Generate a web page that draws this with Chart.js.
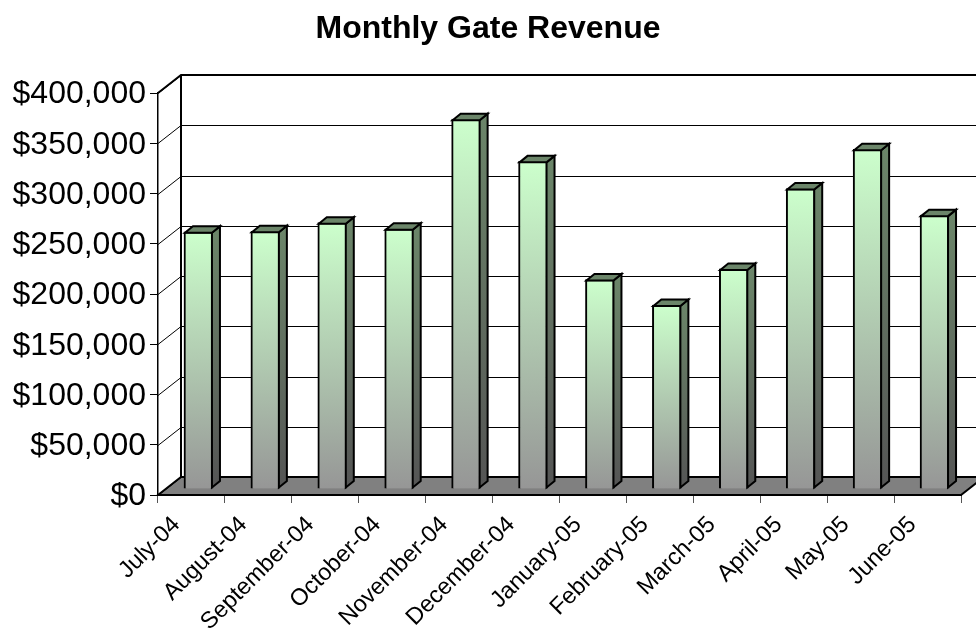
<!DOCTYPE html>
<html>
<head>
<meta charset="utf-8">
<title>Monthly Gate Revenue</title>
<script src="https://cdn.jsdelivr.net/npm/chart.js@4"></script>
<style>
  html, body { margin: 0; padding: 0; background: #fff; }
  #wrap { width: 976px; height: 630px; }
</style>
</head>
<body>
<div id="wrap"><canvas id="gateChart" width="976" height="630"></canvas></div>
<script>
const months = ["July-04", "August-04", "September-04", "October-04", "November-04", "December-04",
                "January-05", "February-05", "March-05", "April-05", "May-05", "June-05"];
const gateRevenue = [256000, 256500, 265000, 259000, 368000, 326000,
                     208500, 183000, 219000, 299000, 338000, 272500];
const yMax = 400000;
const yStep = 50000;

// fake 3D depth of the chart box and of the bars
const wallDx = 23, wallDy = -18;
const barShiftX = 7, barShiftY = -6;
const barDx = 8, barDy = -6.5;

const fontName = '"Liberation Sans", Arial, sans-serif';

function poly(ctx, pts, fill, stroke, lw) {
    ctx.beginPath();
    pts.forEach((p, i) => i ? ctx.lineTo(p[0], p[1]) : ctx.moveTo(p[0], p[1]));
    ctx.closePath();
    if (fill) { ctx.fillStyle = fill; ctx.fill(); }
    if (stroke) { ctx.strokeStyle = stroke; ctx.lineWidth = lw; ctx.stroke(); }
}

const box3d = {
    id: "box3d",
    beforeDatasetsDraw(chart) {
        const { ctx, chartArea: a, scales: { y } } = chart;
        ctx.save();
        // floor
        poly(ctx, [[a.left, a.bottom], [a.left + wallDx, a.bottom + wallDy],
                   [a.right + wallDx, a.bottom + wallDy], [a.right, a.bottom]], "#808080", "#000", 2);
        // back wall lines and the slanted lines on the side wall
        ctx.strokeStyle = "#000";
        y.ticks.forEach(t => {
            const py = Math.round(y.getPixelForValue(t.value)) + 0.5;
            ctx.lineWidth = 1;
            ctx.beginPath();
            ctx.moveTo(a.left, py);
            ctx.lineTo(a.left + wallDx, py + wallDy);
            if (t.value > 0) ctx.lineTo(a.right + wallDx, py + wallDy);
            ctx.stroke();
        });
        ctx.lineWidth = 2;
        ctx.beginPath();
        ctx.moveTo(a.left, a.top);
        ctx.lineTo(a.left + wallDx, a.top + wallDy);
        ctx.lineTo(a.right + wallDx, a.top + wallDy);
        ctx.moveTo(a.left + wallDx, a.top + wallDy);
        ctx.lineTo(a.left + wallDx, a.bottom + wallDy);
        ctx.stroke();
        ctx.restore();
    },
    beforeDatasetDraw(chart) {
        chart.ctx.save();
        chart.ctx.translate(barShiftX, barShiftY);
    },
    afterDatasetDraw(chart, args) {
        const ctx = chart.ctx;
        // top and side faces, same shift as the front face
        chart.getDatasetMeta(args.index).data.forEach(bar => {
            const r = bar.x + bar.width / 2 - 1, l = bar.x - bar.width / 2 + 1;
            const t = bar.y + 1, b = bar.base - 1;
            const side = ctx.createLinearGradient(0, t, 0, b);
            side.addColorStop(0, "#6b8569");
            side.addColorStop(1, "#555555");
            poly(ctx, [[r, t], [r + barDx, t + barDy], [r + barDx, b + barDy], [r, b]], side, "#000", 2);
            poly(ctx, [[l, t], [l + barDx, t + barDy], [r + barDx, t + barDy], [r, t]], "#6b8569", "#000", 2);
        });
        ctx.restore();
    }
};

new Chart(document.getElementById("gateChart"), {
    type: "bar",
    data: {
        labels: months,
        datasets: [{
            label: "Gate Revenue",
            data: gateRevenue,
            barThickness: 29,
            borderColor: "#000",
            borderWidth: 2,
            clip: false,
            backgroundColor(c) {
                const y = c.chart.scales.y;
                const top = y ? y.getPixelForValue(gateRevenue[c.dataIndex]) : NaN;
                const bottom = y ? y.getPixelForValue(0) : NaN;
                if (!Number.isFinite(top) || !Number.isFinite(bottom)) return "#ccffcc";
                const g = c.chart.ctx.createLinearGradient(0, top, 0, bottom);
                g.addColorStop(0, "#ccffcc");
                g.addColorStop(1, "#969696");
                return g;
            }
        }]
    },
    options: {
        responsive: false,
        animation: false,
        layout: { padding: 0 },
        plugins: {
            legend: { display: false },
            tooltip: { enabled: false },
            title: {
                display: true,
                text: "Monthly Gate Revenue",
                color: "#000",
                font: { family: fontName, size: 32, weight: "bold" },
                padding: { top: 9.5, bottom: 45.1 }
            }
        },
        scales: {
            x: {
                grid: { drawOnChartArea: false, color: "#000", tickLength: 8, tickColor: "#555" },
                border: { color: "#000", width: 2 },
                ticks: { color: "#000", minRotation: 45, maxRotation: 45, autoSkip: false, padding: 8, labelOffset: -15,
                         font: { family: fontName, size: 23.5 } },
                afterFit(s) { s.height = 135; s.paddingLeft = 0; s.paddingRight = 15; }
            },
            y: {
                min: 0,
                max: yMax,
                grid: { drawOnChartArea: false, color: "#000", tickLength: 8 },
                border: { color: "#000", width: 1.5 },
                ticks: { color: "#000", stepSize: yStep, padding: 4, labelOffset: 1.5,
                         font: { family: fontName, size: 32 },
                         callback: v => "$" + v.toLocaleString("en-US") },
                afterFit(s) { s.width = 158; s.paddingTop = 0; s.paddingBottom = 0; }
            }
        }
    },
    plugins: [box3d]
});
</script>
</body>
</html>
